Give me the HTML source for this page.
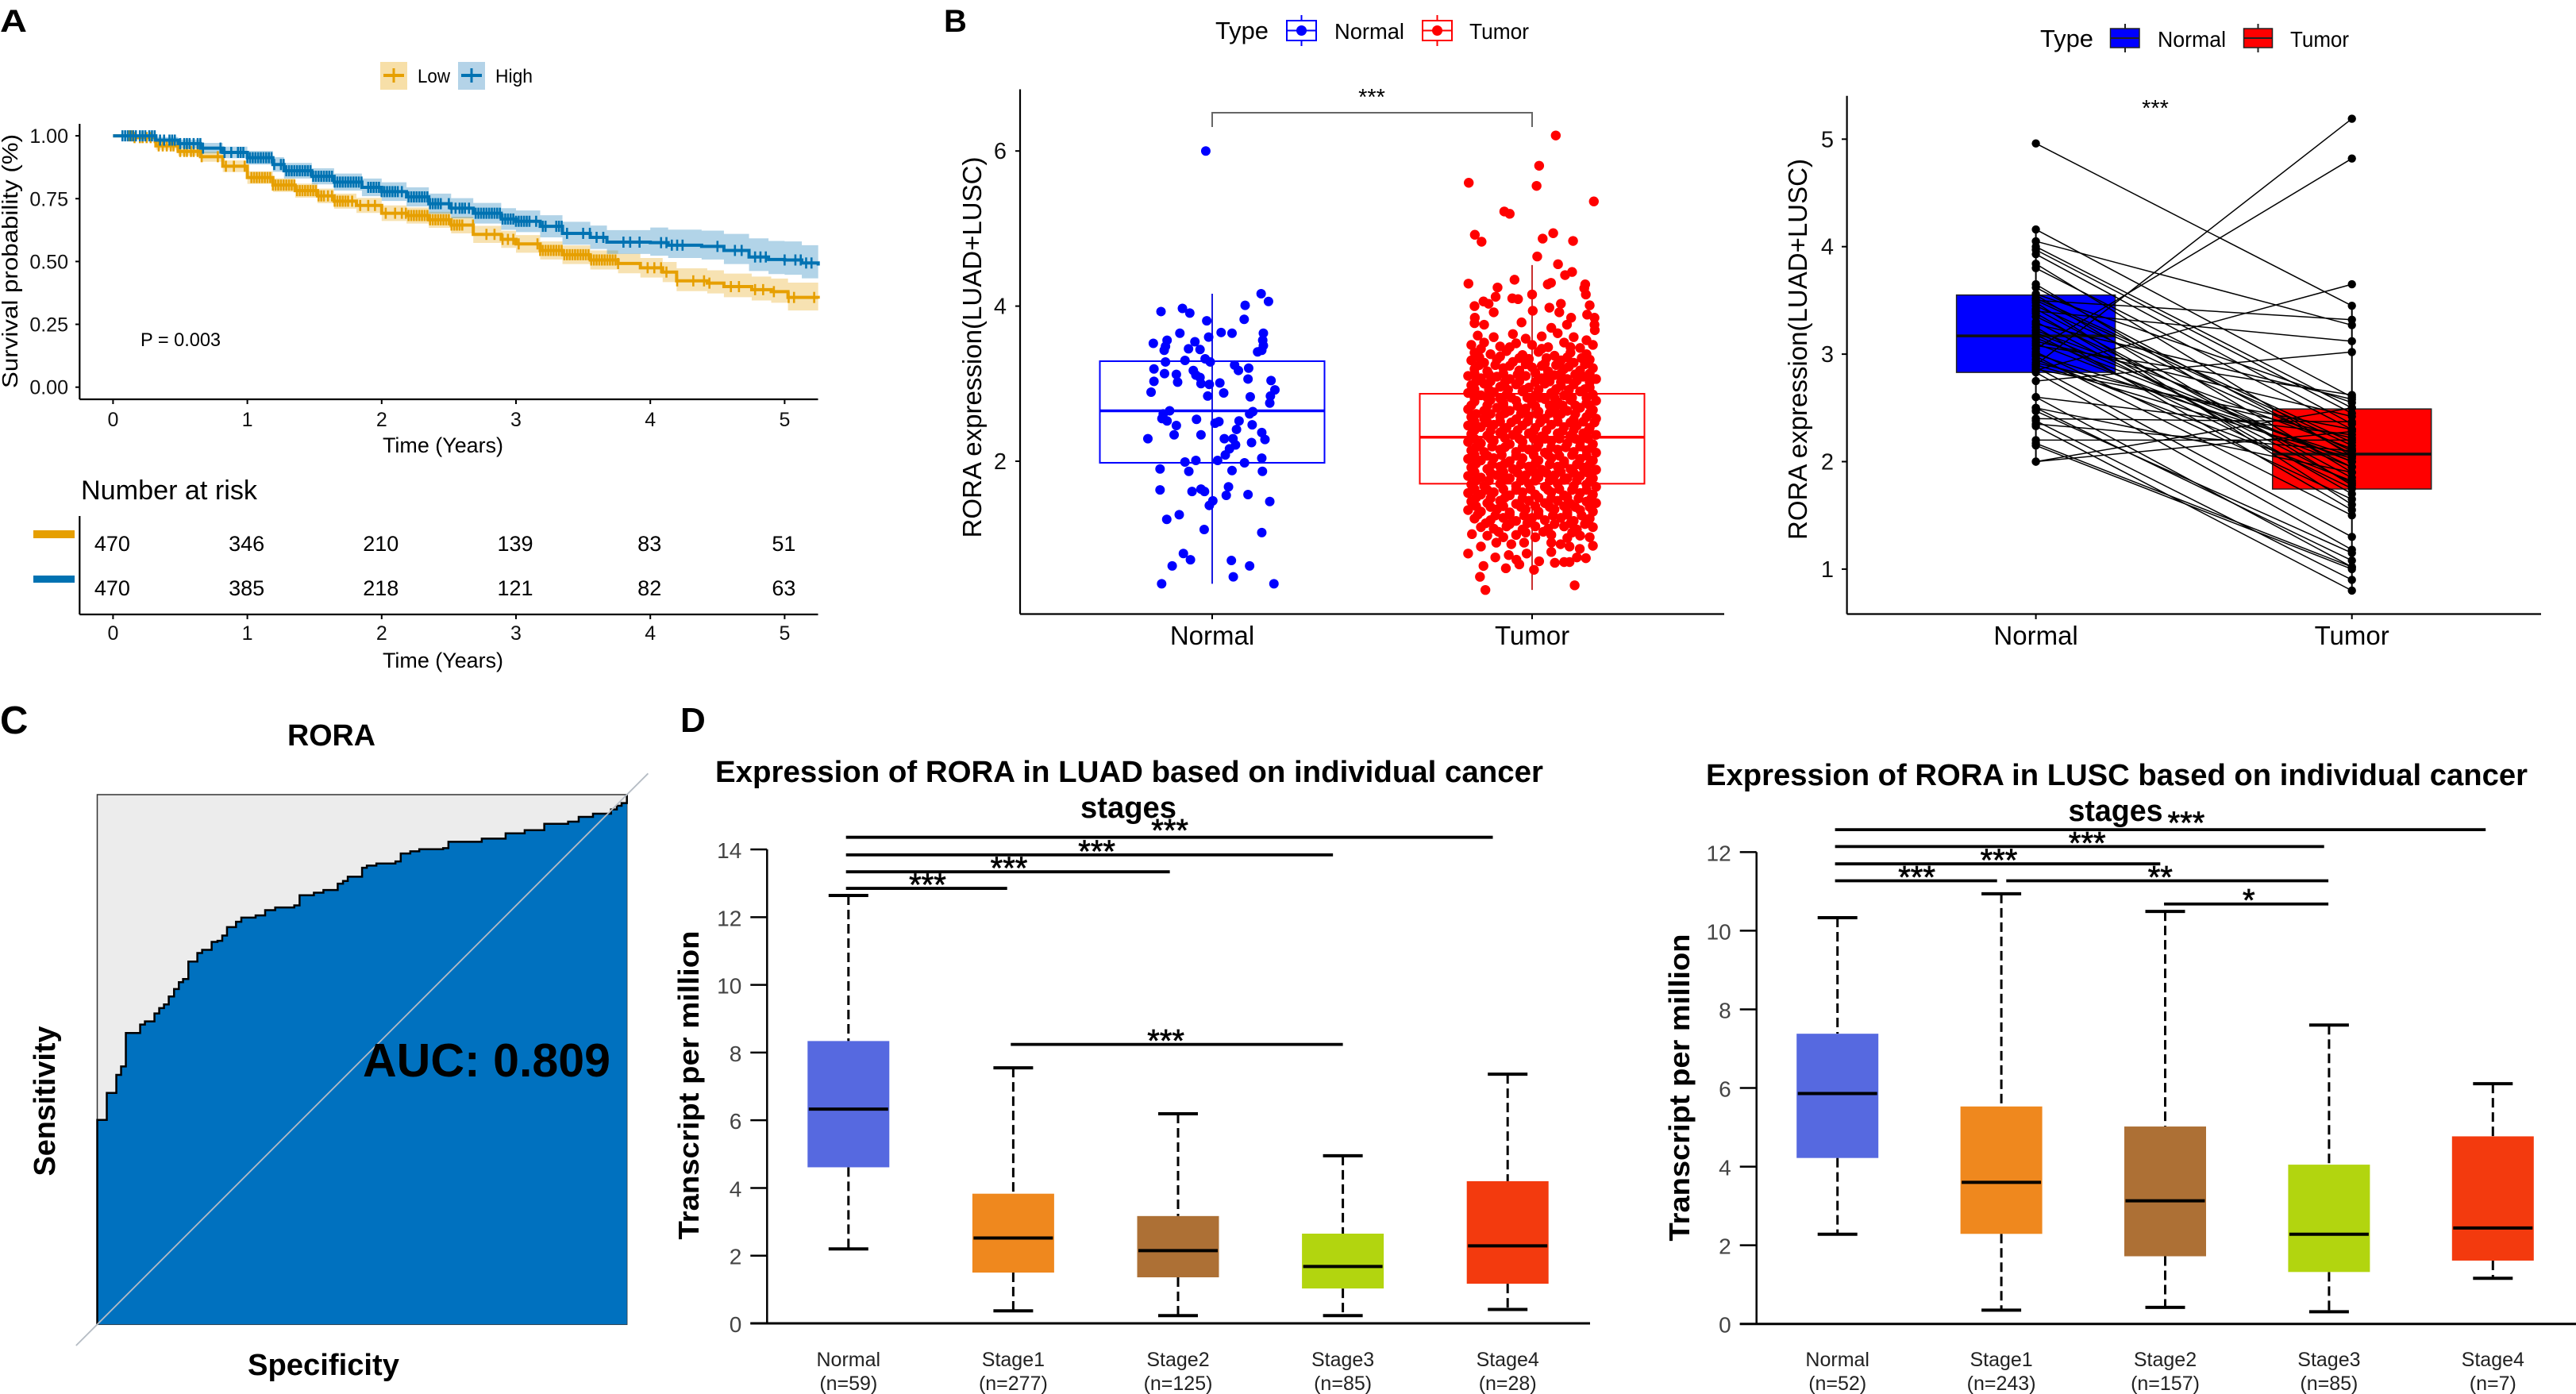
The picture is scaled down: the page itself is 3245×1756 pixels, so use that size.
<!DOCTYPE html>
<html lang="en">
<head>
<meta charset="utf-8">
<title>RORA expression figure</title>
<style>
html,body{margin:0;padding:0;background:#fff}
svg{display:block;font-family:"Liberation Sans",sans-serif}
</style>
</head>
<body>
<svg id="figure" xmlns="http://www.w3.org/2000/svg" width="3245" height="1756" viewBox="0 0 3245 1756">
<rect x="0" y="0" width="3245" height="1756" fill="#fff"/>

<g id="panel-a">
<text x="0" y="40" font-size="40" font-weight="bold" textLength="34" lengthAdjust="spacingAndGlyphs">A</text>
<rect x="479" y="78" width="34" height="35" fill="#f7dfa8"/>
<line x1="483" y1="95" x2="509" y2="95" stroke="#E69F00" stroke-width="4"/>
<line x1="496" y1="86" x2="496" y2="104" stroke="#E69F00" stroke-width="3"/>
<text x="526" y="104" font-size="24" textLength="41" lengthAdjust="spacingAndGlyphs">Low</text>
<rect x="577" y="78" width="34" height="35" fill="#b4d3e8"/>
<line x1="581" y1="95" x2="607" y2="95" stroke="#0072B2" stroke-width="4"/>
<line x1="594" y1="86" x2="594" y2="104" stroke="#0072B2" stroke-width="3"/>
<text x="624" y="104" font-size="24" textLength="47" lengthAdjust="spacingAndGlyphs">High</text>
<text transform="translate(22,329) rotate(-90)" text-anchor="middle" font-size="28" textLength="320" lengthAdjust="spacingAndGlyphs">Survival probability (%)</text>
<text x="558" y="570" text-anchor="middle" font-size="27" textLength="152" lengthAdjust="spacingAndGlyphs">Time (Years)</text>
<text x="177" y="436" font-size="24" textLength="101" lengthAdjust="spacingAndGlyphs">P = 0.003</text>
<text x="102" y="629" font-size="34" textLength="222" lengthAdjust="spacingAndGlyphs">Number at risk</text>
<rect x="42" y="668" width="52" height="10" fill="#E69F00"/>
<rect x="42" y="725" width="52" height="9" fill="#0072B2"/>
<text x="558" y="841" text-anchor="middle" font-size="27" textLength="152" lengthAdjust="spacingAndGlyphs">Time (Years)</text>
</g>

<g id="panel-b1">
<text x="1189" y="40" font-size="40" font-weight="bold">B</text>
<text x="1531" y="49" font-size="31" textLength="67" lengthAdjust="spacingAndGlyphs">Type</text>
<line x1="1639.5" y1="19" x2="1639.5" y2="58" stroke="#0000ff" stroke-width="2"/>
<rect x="1621" y="26" width="37" height="25" fill="#fff" stroke="#0000ff" stroke-width="2"/>
<line x1="1621" y1="38.5" x2="1658" y2="38.5" stroke="#0000ff" stroke-width="2"/>
<circle cx="1639.5" cy="38.5" r="6.5" fill="#0000ff"/>
<text x="1681" y="49" font-size="28" textLength="88" lengthAdjust="spacingAndGlyphs">Normal</text>
<line x1="1810.5" y1="19" x2="1810.5" y2="58" stroke="#ff0000" stroke-width="2"/>
<rect x="1792" y="26" width="37" height="25" fill="#fff" stroke="#ff0000" stroke-width="2"/>
<line x1="1792" y1="38.5" x2="1829" y2="38.5" stroke="#ff0000" stroke-width="2"/>
<circle cx="1810.5" cy="38.5" r="6.5" fill="#ff0000"/>
<text x="1851" y="49" font-size="28" textLength="75" lengthAdjust="spacingAndGlyphs">Tumor</text>
<text transform="translate(1236,437.5) rotate(-90)" text-anchor="middle" font-size="33" textLength="480" lengthAdjust="spacingAndGlyphs">RORA expression(LUAD+LUSC)</text>
<path d="M1527 160V142H1930V160" fill="none" stroke="#666" stroke-width="2"/>
<text x="1728" y="132" text-anchor="middle" font-size="29">***</text>
</g>

<g id="panel-b2">
<text x="2570" y="59" font-size="31" textLength="67" lengthAdjust="spacingAndGlyphs">Type</text>
<line x1="2677" y1="30" x2="2677" y2="66" stroke="#222" stroke-width="2"/>
<rect x="2658.5" y="36" width="36.5" height="24" fill="#0000ff" stroke="#222" stroke-width="1.5"/>
<line x1="2658.5" y1="48" x2="2695" y2="48" stroke="#222" stroke-width="2"/>
<text x="2718" y="59" font-size="28" textLength="86" lengthAdjust="spacingAndGlyphs">Normal</text>
<line x1="2844.5" y1="30" x2="2844.5" y2="66" stroke="#222" stroke-width="2"/>
<rect x="2826.5" y="36" width="36" height="24" fill="#ff0000" stroke="#222" stroke-width="1.5"/>
<line x1="2826.5" y1="48" x2="2862.5" y2="48" stroke="#222" stroke-width="2"/>
<text x="2885" y="59" font-size="28" textLength="74" lengthAdjust="spacingAndGlyphs">Tumor</text>
<text transform="translate(2276,440) rotate(-90)" text-anchor="middle" font-size="33" textLength="480" lengthAdjust="spacingAndGlyphs">RORA expression(LUAD+LUSC)</text>
<text x="2715" y="146" text-anchor="middle" font-size="29">***</text>
</g>

<g id="panel-c">
<text x="0" y="924" font-size="49" font-weight="bold">C</text>
<text x="417.5" y="939" text-anchor="middle" font-size="38" font-weight="bold" textLength="111" lengthAdjust="spacingAndGlyphs">RORA</text>
<text transform="translate(69,1387) rotate(-90)" text-anchor="middle" font-size="38" font-weight="bold" textLength="189" lengthAdjust="spacingAndGlyphs">Sensitivity</text>
<text x="407.5" y="1732" text-anchor="middle" font-size="38" font-weight="bold" textLength="191" lengthAdjust="spacingAndGlyphs">Specificity</text>
</g>

<g id="panel-d1">
<text x="857" y="922" font-size="44" font-weight="bold">D</text>
<text x="1422.5" y="985" text-anchor="middle" font-size="38" font-weight="bold" textLength="1043" lengthAdjust="spacingAndGlyphs">Expression of RORA in LUAD based on individual cancer</text>
<text x="1421.5" y="1030" text-anchor="middle" font-size="38" font-weight="bold" textLength="121" lengthAdjust="spacingAndGlyphs">stages</text>
<text transform="translate(880,1367) rotate(-90)" text-anchor="middle" font-size="36" font-weight="bold" textLength="389" lengthAdjust="spacingAndGlyphs">Transcript per million</text>
</g>

<g id="panel-d2">
<text x="2666.5" y="989" text-anchor="middle" font-size="38" font-weight="bold" textLength="1035" lengthAdjust="spacingAndGlyphs">Expression of RORA in LUSC based on individual cancer</text>
<text x="2665" y="1034" text-anchor="middle" font-size="38" font-weight="bold" textLength="119" lengthAdjust="spacingAndGlyphs">stages</text>
<text transform="translate(2128,1370) rotate(-90)" text-anchor="middle" font-size="36" font-weight="bold" textLength="387" lengthAdjust="spacingAndGlyphs">Transcript per million</text>
</g>
</svg>

<script>
/* ---------- Panel A data ---------- */
const yearTicks = [0,1,2,3,4,5];
const survivalTicks = [0,0.25,0.5,0.75,1];
const riskLow = [470,346,210,139,83,51];
const riskHigh = [470,385,218,121,82,63];
const highTimes = [0,.153,.319,.485,.651,.817,1,1.19,1.273,1.48,1.646,1.853,2,2.185,2.351,2.517,2.682,2.89,3,3.18,3.346,3.553,3.677,4,4.133,4.382,4.548,4.735,4.88,5,5.128,5.25];
const highSurvival = [1,1,.983,.969,.951,.934,.913,.886,.861,.839,.816,.795,.778,.757,.73,.712,.692,.669,.66,.64,.612,.596,.577,.575,.565,.56,.544,.518,.508,.506,.494,.484];
const highUpper = [1,1,.995,.985,.972,.957,.94,.915,.892,.871,.85,.83,.815,.795,.77,.752,.733,.712,.703,.684,.658,.643,.625,.635,.627,.623,.61,.592,.582,.58,.565,.56];
const highLower = [1,1,.971,.953,.93,.911,.886,.857,.83,.807,.782,.76,.741,.719,.69,.672,.651,.626,.617,.596,.567,.55,.53,.523,.514,.508,.49,.462,.45,.447,.433,.423];
const lowTimes = [0,.153,.319,.485,.651,.817,1,1.19,1.356,1.522,1.646,1.812,2,2.185,2.351,2.517,2.682,2.89,3,3.18,3.346,3.553,3.76,3.926,4.092,4.196,4.424,4.548,4.755,4.9,5.025,5.25];
const lowSurvival = [1,.993,.96,.938,.917,.879,.834,.804,.782,.761,.74,.723,.692,.683,.666,.645,.608,.588,.57,.544,.527,.506,.492,.475,.458,.423,.414,.4,.388,.38,.357,.352];
const lowUpper = [1,1,.975,.955,.937,.902,.859,.831,.81,.79,.77,.753,.723,.715,.698,.678,.642,.622,.605,.58,.564,.544,.531,.514,.498,.473,.465,.452,.44,.432,.416,.412];
const lowLower = [1,.986,.945,.921,.897,.856,.809,.777,.754,.732,.71,.693,.661,.651,.634,.612,.574,.554,.535,.508,.49,.468,.453,.436,.418,.382,.373,.358,.345,.336,.305,.293];
const highCensor = [.07,.09,.11,.13,.15,.17,.2,.22,.24,.27,.29,.31,.35,.38,.42,.44,.46,.5,.53,.55,.57,.6,.63,.65,.67,.8,.83,.88,.93,.95,.97,1,1.02,1.04,1.06,1.08,1.1,1.12,1.14,1.16,1.18,1.2,1.25,1.27,1.29,1.31,1.33,1.35,1.37,1.39,1.41,1.43,1.45,1.47,1.49,1.51,1.53,1.55,1.57,1.59,1.61,1.63,1.65,1.67,1.69,1.71,1.73,1.75,1.77,1.79,1.81,1.83,1.85,1.9,1.92,1.94,1.96,1.98,2,2.02,2.04,2.06,2.08,2.1,2.12,2.15,2.2,2.22,2.24,2.26,2.28,2.3,2.32,2.34,2.36,2.38,2.4,2.42,2.44,2.5,2.52,2.55,2.58,2.6,2.62,2.65,2.7,2.72,2.74,2.76,2.78,2.8,2.82,2.84,2.86,2.88,2.9,2.92,2.94,2.96,2.98,3,3.02,3.04,3.06,3.08,3.1,3.15,3.2,3.22,3.3,3.32,3.34,3.38,3.5,3.55,3.6,3.65,3.8,3.85,3.92,4.08,4.12,4.16,4.2,4.24,4.5,4.63,4.68,4.78,4.82,4.86,5,5.08,5.12,5.16,5.2];
const lowCensor = [.12,.14,.16,.2,.22,.25,.28,.31,.34,.37,.4,.43,.45,.48,.5,.53,.55,.58,.6,.63,.66,.78,.84,.9,.98,1.03,1.05,1.07,1.09,1.11,1.13,1.15,1.17,1.19,1.21,1.23,1.25,1.27,1.29,1.31,1.33,1.35,1.37,1.39,1.41,1.43,1.45,1.47,1.49,1.51,1.53,1.55,1.57,1.6,1.63,1.65,1.67,1.69,1.71,1.73,1.75,1.78,1.84,1.9,1.95,2.03,2.1,2.15,2.18,2.2,2.22,2.24,2.26,2.28,2.3,2.32,2.34,2.36,2.38,2.4,2.42,2.44,2.46,2.48,2.5,2.52,2.54,2.56,2.58,2.6,2.68,2.78,2.84,2.9,2.94,2.98,3.02,3.16,3.18,3.2,3.22,3.24,3.26,3.28,3.3,3.32,3.34,3.36,3.38,3.4,3.42,3.44,3.46,3.48,3.5,3.52,3.54,3.56,3.58,3.6,3.62,3.64,3.66,3.68,3.7,3.72,3.74,3.76,3.98,4.03,4.08,4.12,4.2,4.32,4.4,4.44,4.6,4.66,4.78,4.84,4.92,5.03,5.07,5.22];

/* ---------- Panel B left data: [jitter, value] ---------- */
const jitterTicks = [2,4,6];
const groupNames = ['Normal','Tumor'];
const jitterBoxUpper = [3.29,2.87];
const jitterBoxMedian = [2.65,2.31];
const jitterBoxLower = [1.98,1.71];
const jitterWhiskerHigh = [4.16,4.53];
const jitterWhiskerLow = [.42,.34];
const normalPoints = [[-.02,6],[.153,4.16],[.176,4.06],[.103,4.01],[-.093,3.97],[-.16,3.93],[-.07,3.91],[-.017,3.81],[.1,3.83],[.028,3.66],[.062,3.65],[-.101,3.65],[.16,3.65],[-.011,3.6],[.158,3.56],[-.141,3.56],[-.054,3.54],[-.184,3.52],[-.146,3.48],[.16,3.49],[-.074,3.45],[-.038,3.44],[-.15,3.43],[.142,3.41],[.155,3.43],[-.022,3.32],[-.006,3.28],[-.085,3.3],[-.146,3.28],[.07,3.24],[.114,3.2],[-.182,3.19],[.082,3.17],[-.059,3.17],[-.149,3.13],[-.112,3.12],[-.051,3.11],[-.038,3.08],[.112,3.06],[-.182,3.03],[.184,3.04],[-.108,3.02],[-.035,3],[-.009,2.99],[.024,3.01],[.196,2.92],[-.191,2.89],[.036,2.88],[-.014,2.84],[.119,2.83],[.182,2.84],[.18,2.75],[-.133,2.65],[.127,2.64],[.117,2.61],[-.153,2.61],[-.157,2.55],[-.141,2.52],[-.049,2.54],[.084,2.52],[.021,2.51],[.009,2.49],[.125,2.47],[-.112,2.46],[.076,2.41],[.155,2.37],[-.119,2.34],[-.035,2.34],[-.201,2.29],[.038,2.29],[.165,2.28],[.065,2.29],[.123,2.24],[.073,2.21],[.054,2.16],[.041,2.08],[.155,2.04],[-.085,1.99],[-.051,2.01],[.017,2.01],[.101,1.98],[-.163,1.9],[.062,1.88],[-.073,1.87],[.157,1.87],[-.163,1.63],[.051,1.67],[-.035,1.64],[-.063,1.61],[-.024,1.61],[.044,1.56],[.112,1.57],[.002,1.49],[.18,1.48],[-.009,1.43],[-.103,1.31],[-.142,1.25],[-.025,1.12],[.155,1.08],[-.09,.81],[-.068,.73],[.06,.72],[-.125,.65],[.117,.65],[.066,.51],[-.158,.42],[.193,.42]];
const tumorOutliers = [[.074,6.2],[.022,5.81],[-.198,5.59],[.014,5.55],[.193,5.35],[-.087,5.22],[-.07,5.19],[-.179,4.92],[-.158,4.83],[.033,4.87],[.066,4.94],[.128,4.84],[.016,4.64],[.081,4.54],[.125,4.44],[.103,4.4],[-.055,4.34],[-.199,4.29],[-.108,4.24],[.059,4.3],[.049,4.28],[.166,4.28],[.163,4.23],[.168,4.15],[-.114,4.12],[0,4.15],[-.062,4.1],[-.044,4.09],[-.152,4.06],[-.136,4.03],[.09,4.03],[-.18,4],[.18,4.01],[.054,3.98],[.002,3.94],[.085,3.92],[-.12,3.92],[-.179,3.85],[.195,3.85],[.172,3.89],[.122,3.85],[.195,3.76],[-.033,3.79],[-.18,3.78],[.196,3.69],[.109,3.76],[.06,3.72],[-.15,3.76],[-.146,.34],[.133,.4],[-.163,.51],[.006,.6],[-.152,.65],[-.082,.62],[-.2,.81],[-.115,.76],[-.04,.67],[.022,.71],[.071,.69],[.1,.7],[.117,.7],[.168,.75],[.06,.83],[.14,.76],[-.017,.81],[-.073,.79],[-.16,.9],[-.188,1.06],[.19,.91],[.089,.93],[.149,.87],[-.112,.95],[-.065,.93],[-.025,.95],[.06,.95],[.117,.9],[-.049,.73]];
const tumorCloud = [
[-.17,3.62],[-.12,3.6],[-.06,3.64],[-.02,3.58],[.03,3.61],[.08,3.65],[.13,3.6],[.17,3.56],
[-.19,3.5],[-.15,3.53],[-.1,3.48],[-.05,3.52],[0,3.5],[.05,3.47],[.1,3.53],[.15,3.46],[.19,3.5],
[-.18,3.4],[-.13,3.38],[-.08,3.42],[-.03,3.37],[.02,3.41],[.07,3.36],[.12,3.4],[.17,3.38],
[-.19,3.3],[-.15,3.27],[-.11,3.31],[-.06,3.28],[-.01,3.32],[.04,3.26],[.09,3.3],[.13,3.27],[.18,3.31],
[-.18,3.19],[-.14,3.16],[-.09,3.2],[-.04,3.17],[0,3.21],[.05,3.16],[.1,3.19],[.15,3.17],[.19,3.2],
[-.2,3.1],[-.16,3.07],[-.11,3.09],[-.07,3.06],[-.02,3.1],[.03,3.07],[.07,3.11],[.11,3.06],[.16,3.09],[.2,3.06],
[-.19,2.98],[-.15,3],[-.1,2.96],[-.05,2.99],[-.01,2.95],[.04,3],[.09,2.97],[.13,2.99],[.18,2.95],
[-.2,2.88],[-.16,2.85],[-.12,2.89],[-.08,2.86],[-.03,2.9],[.01,2.85],[.06,2.88],[.1,2.85],[.15,2.9],[.19,2.86],
[-.18,2.77],[-.13,2.79],[-.09,2.75],[-.05,2.78],[0,2.75],[.04,2.8],[.08,2.76],[.12,2.79],[.17,2.75],[.2,2.78],
[-.2,2.67],[-.15,2.65],[-.11,2.69],[-.07,2.65],[-.02,2.68],[.02,2.64],[.07,2.68],[.11,2.65],[.15,2.69],[.19,2.66],
[-.19,2.57],[-.15,2.55],[-.1,2.58],[-.05,2.54],[-.01,2.58],[.04,2.55],[.08,2.58],[.13,2.54],[.17,2.57],[.2,2.55],
[-.2,2.46],[-.16,2.44],[-.12,2.47],[-.08,2.43],[-.03,2.46],[.01,2.43],[.06,2.47],[.1,2.44],[.14,2.46],[.18,2.43],
[-.19,2.35],[-.14,2.33],[-.1,2.37],[-.06,2.34],[-.01,2.36],[.03,2.32],[.08,2.36],[.12,2.33],[.16,2.36],[.2,2.34],
[-.2,2.25],[-.16,2.23],[-.12,2.26],[-.07,2.22],[-.03,2.25],[.02,2.22],[.06,2.26],[.11,2.23],[.15,2.25],[.19,2.22],
[-.19,2.14],[-.15,2.12],[-.1,2.15],[-.05,2.12],[-.01,2.15],[.04,2.11],[.08,2.15],[.13,2.12],[.17,2.14],[.2,2.11],
[-.2,2.03],[-.16,2.01],[-.12,2.04],[-.07,2],[-.03,2.04],[.02,2.01],[.06,2.04],[.1,2],[.15,2.03],[.19,2.01],
[-.19,1.92],[-.14,1.9],[-.1,1.93],[-.06,1.9],[-.01,1.93],[.03,1.89],[.08,1.93],[.12,1.9],[.16,1.92],[.2,1.89],
[-.2,1.81],[-.16,1.79],[-.11,1.82],[-.07,1.78],[-.02,1.82],[.02,1.79],[.07,1.82],[.11,1.78],[.15,1.81],[.19,1.78],
[-.19,1.7],[-.15,1.68],[-.1,1.71],[-.05,1.68],[-.01,1.71],[.04,1.67],[.08,1.71],[.13,1.68],[.17,1.7],[.2,1.67],
[-.2,1.59],[-.16,1.57],[-.12,1.6],[-.07,1.56],[-.03,1.6],[.01,1.57],[.06,1.6],[.1,1.56],[.15,1.59],[.19,1.57],
[-.19,1.48],[-.14,1.46],[-.1,1.49],[-.05,1.45],[-.01,1.49],[.04,1.46],[.08,1.49],[.12,1.45],[.17,1.48],[.2,1.46],
[-.2,1.37],[-.16,1.35],[-.11,1.38],[-.07,1.34],[-.02,1.38],[.02,1.35],[.07,1.38],[.11,1.34],[.15,1.37],[.19,1.35],
[-.18,1.26],[-.13,1.24],[-.09,1.27],[-.05,1.23],[0,1.27],[.04,1.24],[.09,1.27],[.13,1.23],[.18,1.26],
[-.16,1.15],[-.12,1.13],[-.08,1.16],[-.03,1.12],[.01,1.16],[.05,1.13],[.1,1.16],[.14,1.12],[.19,1.15],
[-.14,1.04],[-.09,1.02],[-.05,1.05],[.01,1.02],[.06,1.05],[.11,1.01],[.15,1.04],[.18,1.02]
];
const tumorCloudFill = [
[-.16,3.45],[-.07,3.47],[.03,3.45],[.12,3.47],
[-.165,3.34],[-.1,3.35],[-.04,3.33],[.045,3.33],[.11,3.34],[.155,3.33],
[-.165,3.24],[-.115,3.24],[-.07,3.23],[-.02,3.25],[.03,3.23],[.075,3.24],[.115,3.22],[.165,3.25],
[-.18,3.13],[-.135,3.12],[-.09,3.13],[-.045,3.12],[.01,3.14],[.05,3.12],[.09,3.13],[.135,3.12],[.18,3.13],
[-.175,3.03],[-.13,3.03],[-.085,3.02],[-.04,3.03],[.01,3.02],[.055,3.03],[.09,3.02],[.14,3.04],[.18,3.02],
[-.18,2.93],[-.135,2.92],[-.075,2.92],[-.025,2.92],[.02,2.92],[.075,2.93],[.115,2.92],[.165,2.93],
[-.18,2.82],[-.14,2.82],[-.1,2.81],[-.065,2.82],[-.015,2.82],[.025,2.82],[.07,2.82],[.125,2.82],[.17,2.82],
[-.19,2.72],[-.14,2.72],[-.09,2.72],[-.045,2.71],[.01,2.71],[.055,2.72],[.095,2.72],[.135,2.72],[.18,2.72],
[-.175,2.61],[-.13,2.61],[-.085,2.62],[-.035,2.61],[.015,2.61],[.055,2.62],[.09,2.61],[.135,2.61],[.18,2.62],
[-.18,2.51],[-.14,2.5],[-.1,2.51],[-.065,2.5],[-.015,2.51],[.025,2.5],[.08,2.51],[.12,2.5],[.16,2.51],[.195,2.5],
[-.18,2.4],[-.13,2.39],[-.09,2.4],[-.045,2.4],[.005,2.39],[.045,2.4],[.095,2.39],[.13,2.4],[.175,2.39],
[-.18,2.29],[-.13,2.29],[-.085,2.3],[-.04,2.29],[.005,2.29],[.04,2.29],[.085,2.29],[.135,2.29],[.175,2.29],
[-.175,2.18],[-.125,2.19],[-.085,2.18],[-.03,2.18],[.015,2.18],[.06,2.18],[.105,2.18],[.15,2.19],[.185,2.17],
[-.18,2.08],[-.14,2.07],[-.095,2.08],[-.05,2.07],[.005,2.08],[.05,2.08],[.085,2.07],[.125,2.08],[.17,2.07],
[-.175,1.97],[-.125,1.96],[-.085,1.97],[-.035,1.96],[.01,1.97],[.055,1.96],[.1,1.97],[.14,1.96],[.18,1.96],
[-.18,1.86],[-.13,1.85],[-.09,1.86],[-.045,1.85],[.005,1.86],[.045,1.85],[.09,1.86],[.13,1.85],[.175,1.85],
[-.175,1.75],[-.135,1.75],[-.085,1.76],[-.035,1.75],[.01,1.75],[.055,1.75],[.1,1.76],[.14,1.75],[.18,1.74],
[-.18,1.64],[-.14,1.63],[-.09,1.64],[-.05,1.63],[-.005,1.64],[.05,1.63],[.085,1.64],[.125,1.63],[.17,1.63],
[-.175,1.53],[-.13,1.52],[-.085,1.53],[-.03,1.52],[.02,1.53],[.06,1.52],[.11,1.53],[.145,1.52],[.185,1.52],
[-.175,1.42],[-.13,1.41],[-.09,1.42],[-.035,1.41],[.01,1.42],[.055,1.41],[.1,1.42],[.135,1.41],[.18,1.41],
[-.17,1.31],[-.115,1.3],[-.07,1.31],[-.025,1.3],[.02,1.31],[.065,1.3],[.11,1.31],[.155,1.3],
[-.145,1.2],[-.07,1.19],[-.015,1.2],[.07,1.19],[.12,1.2],[.165,1.19],
[-.105,1.09],[-.02,1.08],[.035,1.09],[.125,1.08]
];

/* ---------- Panel B right data ---------- */
const pairedTicks = [1,2,3,4,5];
const pairedBoxUpper = [3.55,2.49];
const pairedBoxMedian = [3.17,2.07];
const pairedBoxLower = [2.83,1.745];
const pairedWhiskerHigh = [4.16,3.45];
const pairedWhiskerLow = [2,.8];
const pairedNormal = [4.96,4.16,4.05,4,3.97,3.93,3.84,3.8,3.65,3.62,3.56,3.55,3.52,3.5,3.5,3.48,3.45,3.42,3.4,3.38,3.35,3.3,3.28,3.25,3.22,3.2,3.18,3.15,3.12,3.1,3.08,3.05,3.02,3,2.98,2.95,2.92,2.9,2.9,2.88,2.86,2.85,2.83,2.75,2.6,2.6,2.5,2.5,2.47,2.4,2.38,2.35,2.33,2.2,2.17,2.15,2,2];
const pairedTumor = [3.45,2.6,3.27,2.5,2.45,2.35,2.05,2.3,1.9,2.07,2.55,1.78,2.18,3.32,2.15,1.6,2.1,1.85,3.12,1.7,1.95,1.8,2.58,1.55,2.12,2,1.75,2,2.42,1.95,2.62,4.82,1.65,2.05,1.5,1.82,2.22,5.19,2.03,1.3,2.3,3.65,1.18,3.02,1.02,2.25,1.08,1.9,1.15,2.37,.9,2.1,.8,2.2,1.02,1,2.5,2.28];

/* ---------- Panel C data ---------- */
const rocFalsePositive = [0,.018,.036,.045,.054,.081,.09,.108,.117,.126,.135,.145,.154,.162,.172,.189,.198,.216,.227,.236,.245,.262,.272,.299,.317,.336,.372,.382,.409,.427,.454,.464,.473,.5,.509,.527,.563,.573,.591,.608,.653,.663,.726,.771,.807,.844,.889,.909,.936,.97,.981,.99,1,1];
const rocSensitivity = [.386,.437,.471,.487,.55,.566,.572,.587,.597,.604,.619,.633,.646,.652,.685,.701,.707,.722,.724,.734,.75,.76,.768,.772,.782,.787,.791,.81,.815,.82,.832,.837,.845,.862,.866,.87,.874,.889,.893,.897,.899,.911,.917,.927,.933,.945,.949,.958,.964,.972,.979,.984,.985,1];

/* ---------- Panel D data ---------- */
const stageNames = ['Normal','Stage1','Stage2','Stage3','Stage4'];
const stageFills = ['#5669E0','#EF881E','#AD7035','#B2D50F','#F33A0E'];
const luadTicks = [0,2,4,6,8,10,12,14];
const luadCounts = ['(n=59)','(n=277)','(n=125)','(n=85)','(n=28)'];
const luadUpper = [8.34,3.83,3.17,2.65,4.2];
const luadMedian = [6.33,2.52,2.15,1.68,2.29];
const luadLower = [4.61,1.5,1.36,1.03,1.17];
const luadMax = [12.64,7.55,6.19,4.95,7.36];
const luadMin = [2.2,.37,.23,.23,.41];
const luadSigLevel = [12.85,13.34,13.84,14.36,8.24];
const luadSigStart = [-.015,-.015,-.015,-.015,.985];
const luadSigEnd = [.963,1.95,2.94,3.91,3];
const luadSigCentre = [.48,.974,1.507,1.95,1.926];
const luadSigLabel = ['***','***','***','***','***'];
const luscTicks = [0,2,4,6,8,10,12];
const luscCounts = ['(n=52)','(n=243)','(n=157)','(n=85)','(n=7)'];
const luscUpper = [7.38,5.53,5.02,4.05,4.77];
const luscMedian = [5.86,3.6,3.13,2.28,2.44];
const luscLower = [4.22,2.29,1.72,1.32,1.61];
const luscMax = [10.33,10.94,10.49,7.6,6.11];
const luscMin = [2.28,.35,.42,.31,1.16];
const luscSigLevel = [12.57,12.14,11.7,11.27,11.27,10.68];
const luscSigStart = [-.015,-.015,-.015,-.015,1.03,1.993];
const luscSigEnd = [3.956,2.97,1.97,.974,2.996,2.996];
const luscSigCentre = [2.128,1.524,.985,.484,1.97,2.51];
const luscSigLabel = ['***','***','***','***','**','*'];

/* ---------- helpers ---------- */
const NS = 'http://www.w3.org/2000/svg';
function mk(tag, parent, attrs, text) {
  const e = document.createElementNS(NS, tag);
  for (const k in attrs) e.setAttribute(k, attrs[k]);
  if (text !== undefined) e.textContent = text;
  parent.appendChild(e);
  return e;
}
function stepPath(ts, ss, xf, yf) {
  let d = 'M' + xf(ts[0]) + ' ' + yf(ss[0]);
  for (let i = 1; i < ts.length; i++) d += 'H' + xf(ts[i]) + 'V' + yf(ss[i]);
  return d;
}
function bandPath(ts, up, lo, xf, yf) {
  let d = 'M' + xf(ts[0]) + ' ' + yf(up[0]);
  for (let i = 1; i < ts.length; i++) d += 'H' + xf(ts[i]) + 'V' + yf(up[i]);
  d += 'V' + yf(lo[ts.length - 1]);
  for (let i = ts.length - 1; i > 0; i--) d += 'V' + yf(lo[i - 1]) + 'H' + xf(ts[i - 1]);
  return d + 'Z';
}
function stepValue(ts, ss, t) {
  let v = ss[0];
  for (let i = 0; i < ts.length; i++) if (ts[i] <= t) v = ss[i];
  return v;
}

/* ---------- Panel A ---------- */
(function () {
  const g = document.getElementById('panel-a');
  const xA = t => 142.4 + t * 169.2;
  const yA = s => 487.7 - s * 316.6;
  const bands = [[lowTimes, lowUpper, lowLower, '#E69F00', 'low-confidence-band'], [highTimes, highUpper, highLower, '#0072B2', 'high-confidence-band']];
  bands.forEach(b => {
    const p = mk('path', g, { d: bandPath(b[0], b[1], b[2], xA, yA), fill: b[3], 'fill-opacity': .3 });
    
    
  });
  const series = [[lowTimes, lowSurvival, lowCensor, '#E69F00', 'low'], [highTimes, highSurvival, highCensor, '#0072B2', 'high']];
  series.forEach(s => {
    const p = mk('path', g, { d: stepPath(s[0], s[1], xA, yA), fill: 'none', stroke: s[3], 'stroke-width': 4 });
    
    
    s[2].forEach(t => {
      const y = yA(stepValue(s[0], s[1], t));
      const c = mk('line', g, { x1: xA(t), x2: xA(t), y1: y - 7, y2: y + 7, stroke: s[3], 'stroke-width': 2.6 });
      
      
    });
  });
  const axes = [[100.3, 156, 100.3, 503, 'survival-y-axis'], [100.3, 503, 1030.5, 503, 'survival-x-axis'], [100.3, 650, 100.3, 774, 'risk-y-axis'], [100.3, 774, 1030.5, 774, 'risk-x-axis']];
  axes.forEach(a => {
    const l = mk('line', g, { x1: a[0], y1: a[1], x2: a[2], y2: a[3], stroke: '#000', 'stroke-width': 2.2 });
    
    
  });
  survivalTicks.forEach(v => {
    const m = mk('line', g, { x1: 95, x2: 100.3, y1: yA(v), y2: yA(v), stroke: '#000', 'stroke-width': 2 });
    
    
    const t = mk('text', g, { x: 86, y: yA(v) + 9, 'text-anchor': 'end', 'font-size': 25, fill: '#111' }, v.toFixed(2));
    
    
  });
  yearTicks.forEach((v, i) => {
    [[503, 537], [774, 806]].forEach(r => {
      const m = mk('line', g, { x1: xA(v), x2: xA(v), y1: r[0], y2: r[0] + 6, stroke: '#000', 'stroke-width': 2 });
      
      
      const t = mk('text', g, { x: xA(v), y: r[1], 'text-anchor': 'middle', 'font-size': 25, fill: '#111' }, v);
      
      
    });
    const a = mk('text', g, { x: xA(v) - 1, y: 694, 'text-anchor': 'middle', 'font-size': 27 }, riskLow[i]);
    
    
    const b = mk('text', g, { x: xA(v) - 1, y: 750, 'text-anchor': 'middle', 'font-size': 27 }, riskHigh[i]);
    
    
  });
})();

/* ---------- Panel B left ---------- */
(function () {
  const g = document.getElementById('panel-b1');
  const xB = c => 1527 + c * 403;
  const yB = v => 581 - (v - 2) * 97.7;
  const colours = ['#0000ff', '#ff0000'];
  const whisk = ['#1a1ae0', '#c93030'];
  groupNames.forEach((name, i) => {
    const w = mk('line', g, { x1: xB(i), x2: xB(i), y1: yB(jitterWhiskerHigh[i]), y2: yB(jitterWhiskerLow[i]), stroke: whisk[i], 'stroke-width': 2 });
    
    
    const r = mk('rect', g, { x: xB(i) - 141.5, width: 283, y: yB(jitterBoxUpper[i]), height: yB(jitterBoxLower[i]) - yB(jitterBoxUpper[i]), fill: 'none', stroke: colours[i], 'stroke-width': 2 });
    
    
    const m = mk('line', g, { x1: xB(i) - 141.5, x2: xB(i) + 141.5, y1: yB(jitterBoxMedian[i]), y2: yB(jitterBoxMedian[i]), stroke: colours[i], 'stroke-width': 3.5 });
    
    
  });
  normalPoints.forEach(p => {
    const c = mk('circle', g, { cx: xB(p[0]), cy: yB(p[1]), r: 6, fill: colours[0] });
    
    
  });
  tumorCloud.concat(tumorCloudFill, tumorOutliers).forEach(p => {
    const c = mk('circle', g, { cx: xB(1 + p[0]), cy: yB(p[1]), r: 6.2, fill: colours[1] });
    
    
  });
  const ya = mk('line', g, { x1: 1285, x2: 1285, y1: 112.5, y2: 773.5, stroke: '#000', 'stroke-width': 2.2 });
  
  
  const xa = mk('line', g, { x1: 1285, x2: 2172, y1: 773.5, y2: 773.5, stroke: '#000', 'stroke-width': 2.2 });
  
  
  jitterTicks.forEach(v => {
    const m = mk('line', g, { x1: 1279, x2: 1285, y1: yB(v), y2: yB(v), stroke: '#000', 'stroke-width': 2 });
    
    
    const t = mk('text', g, { x: 1268, y: yB(v) + 10, 'text-anchor': 'end', 'font-size': 29, fill: '#111' }, v);
    
    
  });
  groupNames.forEach((name, i) => {
    const m = mk('line', g, { x1: xB(i), x2: xB(i), y1: 773.5, y2: 780, stroke: '#000', 'stroke-width': 2 });
    
    
    const t = mk('text', g, { x: xB(i), y: 812, 'text-anchor': 'middle', 'font-size': 33 }, name);
    
    
  });
})();

/* ---------- Panel B right ---------- */
(function () {
  const g = document.getElementById('panel-b2');
  const xP = c => 2564.6 + c * 398.1;
  const yP = v => 581.5 - (v - 2) * 135.4;
  const fills = ['#0000ff', '#ff0000'];
  groupNames.forEach((name, i) => {
    const w = mk('line', g, { x1: xP(i), x2: xP(i), y1: yP(pairedWhiskerHigh[i]), y2: yP(pairedWhiskerLow[i]), stroke: '#000', 'stroke-width': 2 });
    
    
    const r = mk('rect', g, { x: xP(i) - 100, width: 200, y: yP(pairedBoxUpper[i]), height: yP(pairedBoxLower[i]) - yP(pairedBoxUpper[i]), fill: fills[i], stroke: '#222', 'stroke-width': 1.5 });
    
    
    const m = mk('line', g, { x1: xP(i) - 100, x2: xP(i) + 100, y1: yP(pairedBoxMedian[i]), y2: yP(pairedBoxMedian[i]), stroke: '#111', 'stroke-width': 3.5 });
    
    
  });
  pairedNormal.forEach((v, i) => {
    const l = mk('line', g, { x1: xP(0), y1: yP(v), x2: xP(1), y2: yP(pairedTumor[i]), stroke: '#000', 'stroke-width': 1.5 });
    
    
    const a = mk('circle', g, { cx: xP(0), cy: yP(v), r: 5.2, fill: '#000' });
    
    
    const b = mk('circle', g, { cx: xP(1), cy: yP(pairedTumor[i]), r: 5.2, fill: '#000' });
    
    
  });
  const ya = mk('line', g, { x1: 2326.6, x2: 2326.6, y1: 120.7, y2: 773.5, stroke: '#000', 'stroke-width': 2.2 });
  
  
  const xa = mk('line', g, { x1: 2326.6, x2: 3201, y1: 773.5, y2: 773.5, stroke: '#000', 'stroke-width': 2.2 });
  
  
  pairedTicks.forEach(v => {
    const m = mk('line', g, { x1: 2320, x2: 2326.6, y1: yP(v), y2: yP(v), stroke: '#000', 'stroke-width': 2 });
    
    
    const t = mk('text', g, { x: 2310, y: yP(v) + 10, 'text-anchor': 'end', 'font-size': 29, fill: '#111' }, v);
    
    
  });
  groupNames.forEach((name, i) => {
    const m = mk('line', g, { x1: xP(i), x2: xP(i), y1: 773.5, y2: 780, stroke: '#000', 'stroke-width': 2 });
    
    
    const t = mk('text', g, { x: xP(i), y: 812, 'text-anchor': 'middle', 'font-size': 33 }, name);
    
    
  });
})();

/* ---------- Panel C ---------- */
(function () {
  const g = document.getElementById('panel-c');
  const xR = f => 122.5 + f * 667.2;
  const yR = s => 1668.3 - s * 667.3;
  const bg = mk('rect', g, { x: xR(0), y: yR(1), width: xR(1) - xR(0), height: yR(0) - yR(1), fill: '#ECECEC', stroke: '#333', 'stroke-width': 1.5 });
  
  
  let d = 'M' + xR(0) + ' ' + yR(0) + 'V' + yR(rocSensitivity[0]);
  for (let i = 1; i < rocFalsePositive.length; i++) d += 'H' + xR(rocFalsePositive[i]) + 'V' + yR(rocSensitivity[i]);
  const area = mk('path', g, { d: d + 'V' + yR(0) + 'Z', fill: '#0071BF', stroke: 'none' });
  
  
  const curve = mk('path', g, { d: d, fill: 'none', stroke: '#000', 'stroke-width': 2.5 });
  
  
  const diag = mk('line', g, { x1: xR(-.04), y1: yR(-.04), x2: xR(1.04), y2: yR(1.04), stroke: '#b5bcc4', 'stroke-width': 1.8 });
  
  
  const t = mk('text', g, { x: 457, y: 1356, 'font-size': 59, 'font-weight': 'bold', textLength: 312, lengthAdjust: 'spacingAndGlyphs' }, 'AUC: 0.809');
  
  
})();

/* ---------- Panel D ---------- */
function stagePlot(g, cfg) {
  const xS = c => cfg.x0 + c * cfg.step;
  const yS = v => cfg.y0 - v * cfg.unit;
  const topLevel = Math.max.apply(null, cfg.sigLevel);
  stageNames.forEach((name, i) => {
    const w1 = mk('line', g, { x1: xS(i), x2: xS(i), y1: yS(cfg.max[i]), y2: yS(cfg.upper[i]), stroke: '#000', 'stroke-width': 3, 'stroke-dasharray': '12 6' });
    
    
    const w2 = mk('line', g, { x1: xS(i), x2: xS(i), y1: yS(cfg.lower[i]), y2: yS(cfg.min[i]), stroke: '#000', 'stroke-width': 3, 'stroke-dasharray': '12 6' });
    
    
    const c1 = mk('line', g, { x1: xS(i) - 25, x2: xS(i) + 25, y1: yS(cfg.max[i]), y2: yS(cfg.max[i]), stroke: '#000', 'stroke-width': 4 });
    
    
    const c2 = mk('line', g, { x1: xS(i) - 25, x2: xS(i) + 25, y1: yS(cfg.min[i]), y2: yS(cfg.min[i]), stroke: '#000', 'stroke-width': 4 });
    
    
    const r = mk('rect', g, { x: xS(i) - 51.5, width: 103, y: yS(cfg.upper[i]), height: yS(cfg.lower[i]) - yS(cfg.upper[i]), fill: stageFills[i] });
    
    
    const m = mk('line', g, { x1: xS(i) - 50, x2: xS(i) + 50, y1: yS(cfg.median[i]), y2: yS(cfg.median[i]), stroke: '#000', 'stroke-width': 4 });
    
    
    const t = mk('text', g, { x: xS(i), y: 1721, 'text-anchor': 'middle', 'font-size': 25, fill: '#222' }, name);
    
    
    const n = mk('text', g, { x: xS(i), y: 1751, 'text-anchor': 'middle', 'font-size': 25, fill: '#222' }, cfg.counts[i]);
    
    
  });
  const ya = mk('line', g, { x1: cfg.axisX, x2: cfg.axisX, y1: yS(cfg.ticks[cfg.ticks.length - 1]), y2: cfg.y0, stroke: '#000', 'stroke-width': 2.5 });
  
  
  const xa = mk('line', g, { x1: cfg.axisX - 21, x2: cfg.axisEnd, y1: cfg.y0, y2: cfg.y0, stroke: '#000', 'stroke-width': 3 });
  
  
  cfg.ticks.forEach(v => {
    const m = mk('line', g, { x1: cfg.axisX - 21, x2: cfg.axisX, y1: yS(v), y2: yS(v), stroke: '#000', 'stroke-width': 2.5 });
    
    
    const t = mk('text', g, { x: cfg.axisX - 32, y: yS(v) + 11, 'text-anchor': 'end', 'font-size': 28, fill: '#444' }, v);
    
    
  });
  cfg.sigLevel.forEach((v, i) => {
    const l = mk('line', g, { x1: xS(cfg.sigStart[i]), x2: xS(cfg.sigEnd[i]), y1: yS(v), y2: yS(v), stroke: '#000', 'stroke-width': 3.8 });
    
    
    const t = mk('text', g, { x: xS(cfg.sigCentre[i]), y: yS(v) + (v === topLevel ? 5 : 9), 'text-anchor': 'middle', 'font-size': 40, stroke: '#000', 'stroke-width': .7 }, cfg.sigLabel[i]);
    
    
  });
}
stagePlot(document.getElementById('panel-d1'), { x0: 1068.8, step: 207.6, y0: 1667, unit: 42.64, axisX: 966.3, axisEnd: 2003, ticks: luadTicks, counts: luadCounts, upper: luadUpper, median: luadMedian, lower: luadLower, max: luadMax, min: luadMin, sigLevel: luadSigLevel, sigStart: luadSigStart, sigEnd: luadSigEnd, sigCentre: luadSigCentre, sigLabel: luadSigLabel });
stagePlot(document.getElementById('panel-d2'), { x0: 2314.7, step: 206.4, y0: 1667.7, unit: 49.53, axisX: 2212.7, axisEnd: 3245, ticks: luscTicks, counts: luscCounts, upper: luscUpper, median: luscMedian, lower: luscLower, max: luscMax, min: luscMin, sigLevel: luscSigLevel, sigStart: luscSigStart, sigEnd: luscSigEnd, sigCentre: luscSigCentre, sigLabel: luscSigLabel });
</script>
</body>
</html>
